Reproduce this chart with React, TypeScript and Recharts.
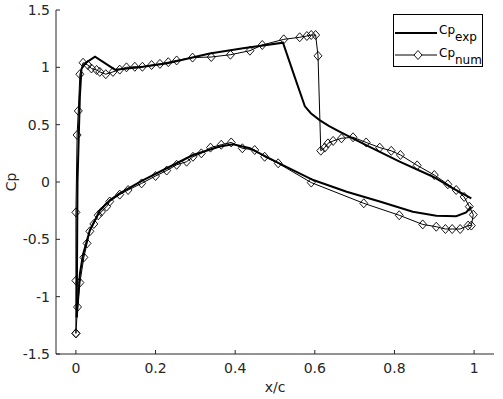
import { LineChart, Line, XAxis, YAxis } from 'recharts';

// x/c ticks and Cp ticks
const xTicks = [0, 0.2, 0.4, 0.6, 0.8, 1];
const yTicks = [-1.5, -1, -0.5, 0, 0.5, 1, 1.5];

// experimental, upper surface (LE -> TE)
const expUpperX = [0.002, 0.004, 0.01, 0.014, 0.023, 0.048, 0.098, 0.16, 0.23, 0.336, 0.42, 0.52, 0.552, 0.575, 0.59, 0.612, 0.635, 0.662, 0.73, 0.813, 0.897, 0.947, 0.993];
const expUpperCp = [-1.18, 0.0, 0.75, 0.985, 1.035, 1.093, 0.98, 1.0, 1.035, 1.12, 1.166, 1.215, 0.89, 0.66, 0.6, 0.54, 0.49, 0.44, 0.32, 0.177, 0.046, -0.055, -0.142];

// experimental, lower surface (LE -> TE)
const expLowerX = [0.002, 0.006, 0.01, 0.018, 0.035, 0.06, 0.085, 0.11, 0.14, 0.169, 0.228, 0.294, 0.361, 0.395, 0.437, 0.47, 0.512, 0.596, 0.68, 0.763, 0.846, 0.905, 0.955, 0.98, 0.993];
const expLowerCp = [-1.18, -1.0, -0.8, -0.63, -0.42, -0.25, -0.16, -0.1, -0.04, 0.017, 0.12, 0.235, 0.31, 0.33, 0.294, 0.235, 0.16, 0.017, -0.085, -0.17, -0.26, -0.295, -0.298, -0.265, -0.215];

// numerical, upper surface (LE -> TE)
const numUpperX = [0.0, 0.0, 0.0, 0.003, 0.006, 0.01, 0.018, 0.03, 0.039, 0.052, 0.06, 0.075, 0.093, 0.11, 0.127, 0.148, 0.167, 0.19, 0.211, 0.232, 0.253, 0.293, 0.34, 0.388, 0.437, 0.468, 0.522, 0.562, 0.58, 0.591, 0.602, 0.608, 0.615, 0.625, 0.633, 0.646, 0.667, 0.696, 0.729, 0.763, 0.792, 0.815, 0.857, 0.9, 0.934, 0.955, 0.975, 0.988, 0.998];
const numUpperCp = [-1.32, -0.86, -0.265, 0.41, 0.62, 0.94, 1.04, 1.02, 0.99, 0.977, 0.96, 0.94, 0.96, 0.98, 1.0, 1.005, 1.005, 1.02, 1.03, 1.045, 1.06, 1.085, 1.09, 1.11, 1.145, 1.195, 1.244, 1.262, 1.273, 1.282, 1.282, 1.1, 0.273, 0.3, 0.337, 0.358, 0.381, 0.39, 0.345, 0.3, 0.272, 0.236, 0.145, 0.061, -0.02, -0.07, -0.13, -0.215, -0.285];

// numerical, lower surface (TE -> LE)
const numLowerX = [0.993, 0.985, 0.965, 0.945, 0.928, 0.905, 0.871, 0.812, 0.723, 0.591, 0.508, 0.474, 0.449, 0.418, 0.39, 0.365, 0.338, 0.315, 0.294, 0.278, 0.253, 0.228, 0.2, 0.165, 0.131, 0.11, 0.085, 0.077, 0.064, 0.056, 0.045, 0.035, 0.028, 0.02, 0.01, 0.004, 0.0];
const numLowerCp = [-0.38, -0.38, -0.41, -0.41, -0.41, -0.39, -0.37, -0.29, -0.186, -0.005, 0.163, 0.22, 0.279, 0.294, 0.345, 0.325, 0.3, 0.25, 0.22, 0.177, 0.15, 0.1, 0.052, -0.012, -0.07, -0.11, -0.17, -0.215, -0.26, -0.29, -0.366, -0.43, -0.535, -0.657, -0.877, -1.09, -1.32];

const toPoints = (xs: number[], ys: number[]) => xs.map((x, i) => ({ x, cp: ys[i] }));

const expUpper = toPoints(expUpperX, expUpperCp);
const expLower = toPoints(expLowerX, expLowerCp);
const numLoop = [...toPoints(numUpperX, numUpperCp), ...toPoints(numLowerX, numLowerCp)];

const axisColor = '#262626';
const font = 'DejaVu Sans, sans-serif';

const Diamond = (props: any) => {
  const { cx, cy, index } = props;
  if (cx == null || cy == null) return null;
  return (
    <path
      key={`d-${index}`}
      d={`M${cx - 4},${cy} L${cx},${cy - 4.5} L${cx + 4},${cy} L${cx},${cy + 4.5} Z`}
      fill="none"
      stroke="#000"
      strokeWidth={0.9}
    />
  );
};

function LegendBox() {
  return (
    <svg width={92} height={55} style={{ position: 'absolute', left: 392, top: 13 }}>
      <rect x={1.5} y={1.5} width={89} height={52} fill="#fff" stroke="#000" strokeWidth={1} />
      <line x1={3} x2={45} y1={20} y2={20} stroke="#000" strokeWidth={2} />
      <text x={47} y={21} fontSize={12} fontFamily={font} fill="#000">
        Cp<tspan dy={6.5}>exp</tspan>
      </text>
      <line x1={3} x2={45} y1={42} y2={42} stroke="#000" strokeWidth={1} />
      <path d="M22,42 L26,37.5 L30,42 L26,46.5 Z" fill="#fff" stroke="#000" strokeWidth={0.9} />
      <text x={47} y={44} fontSize={12} fontFamily={font} fill="#000">
        Cp<tspan dy={6.5}>num</tspan>
      </text>
    </svg>
  );
}

export default function App() {
  const tickStyle = { fill: axisColor, fontSize: 14, fontFamily: font };
  return (
    <div style={{ position: 'absolute', left: 0, top: 0, width: 503, height: 399, background: '#fff' }}>
      <LineChart width={503} height={399} margin={{ top: 10, right: 9, left: 0, bottom: 0 }}>
        <XAxis
          type="number"
          dataKey="x"
          domain={[-0.05, 1.05]}
          ticks={xTicks}
          allowDataOverflow
          height={45}
          tickSize={-4}
          tickMargin={13}
          stroke={axisColor}
          tick={tickStyle}
          label={{
            content: () => (
              <text x={275} y={392} textAnchor="middle" fontSize={14} fontFamily={font} fill={axisColor}>
                x/c
              </text>
            ),
          }}
        />
        <XAxis
          xAxisId="top"
          orientation="top"
          type="number"
          dataKey="x"
          domain={[-0.05, 1.05]}
          ticks={xTicks}
          allowDataOverflow
          height={0}
          tickSize={-4}
          stroke={axisColor}
          tick={false}
        />
        <YAxis
          type="number"
          dataKey="cp"
          domain={[-1.5, 1.5]}
          ticks={yTicks}
          allowDataOverflow
          width={56}
          tickSize={-4}
          tickMargin={10}
          stroke={axisColor}
          tick={tickStyle}
          label={{
            content: () => (
              <text x={16} y={182} transform="rotate(-90 16 182)" textAnchor="middle" fontSize={14} fontFamily={font} fill={axisColor}>
                Cp
              </text>
            ),
          }}
        />
        <YAxis
          yAxisId="right"
          orientation="right"
          type="number"
          domain={[-1.5, 1.5]}
          ticks={yTicks}
          allowDataOverflow
          width={0}
          tickSize={-4}
          stroke={axisColor}
          tick={false}
        />
        <Line data={expUpper} dataKey="cp" type="linear" stroke="#000" strokeWidth={2} dot={false} isAnimationActive={false} />
        <Line data={expLower} dataKey="cp" type="linear" stroke="#000" strokeWidth={2} dot={false} isAnimationActive={false} />
        <Line data={numLoop} dataKey="cp" type="linear" stroke="#000" strokeWidth={1} dot={Diamond} isAnimationActive={false} />
      </LineChart>
      <LegendBox />
    </div>
  );
}
